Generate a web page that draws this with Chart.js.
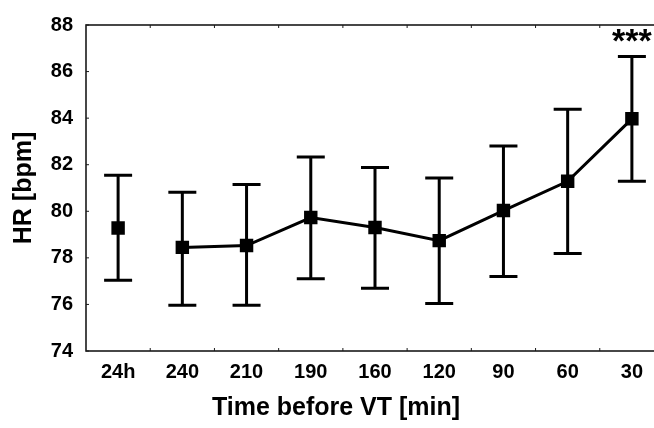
<!DOCTYPE html>
<html>
<head>
<meta charset="utf-8">
<script src="https://cdn.jsdelivr.net/npm/chart.js@4/dist/chart.umd.min.js"></script>
<style>
  html, body { margin: 0; padding: 0; background: #fff; overflow: hidden; }
  #wrap { width: 680px; height: 428px; }
</style>
</head>
<body>
<div id="wrap"><canvas id="c" width="680" height="428"></canvas></div>
<script>
// ---- data ----
const categories = ['24h', '240', '210', '190', '160', '120', '90', '60', '30'];
const meanHR  = [79.28, 78.45, 78.53, 79.73, 79.30, 78.74, 80.03, 81.29, 83.97];
const upperHR = [81.55, 80.82, 81.15, 82.33, 81.88, 81.43, 82.80, 84.38, 86.65];
const lowerHR = [77.04, 75.97, 75.97, 77.10, 76.69, 76.04, 77.20, 78.19, 81.29];
const yTicks = [74, 76, 78, 80, 82, 84, 86, 88];
const significance = { index: 8, text: '***' };
const xTitle = 'Time before VT [min]';

const FONT = '"Liberation Sans", Arial, Helvetica, sans-serif';

const errorBars = {
  id: 'errorBars',
  beforeDatasetsDraw(chart) {
    const { ctx, scales: { x, y } } = chart;
    ctx.save();
    ctx.strokeStyle = '#000';
    ctx.lineWidth = 3;
    ctx.lineCap = 'butt';
    const cap = 14;
    categories.forEach((c, i) => {
      const px = x.getPixelForValue(i);
      const yt = y.getPixelForValue(upperHR[i]);
      const yb = y.getPixelForValue(lowerHR[i]);
      ctx.beginPath();
      ctx.moveTo(px, yt); ctx.lineTo(px, yb);
      ctx.moveTo(px - cap, yt); ctx.lineTo(px + cap, yt);
      ctx.moveTo(px - cap, yb); ctx.lineTo(px + cap, yb);
      ctx.stroke();
    });
    ctx.restore();
  },
  afterDatasetsDraw(chart) {
    const { ctx, scales: { x, y } } = chart;
    ctx.save();
    ctx.fillStyle = '#000';
    ctx.font = 'bold 34px ' + FONT;
    ctx.textAlign = 'center';
    ctx.textBaseline = 'alphabetic';
    const i = significance.index;
    ctx.fillText(significance.text, x.getPixelForValue(i), y.getPixelForValue(upperHR[i]) - 4);
    ctx.restore();
  }
};

const frame = {
  id: 'frame',
  afterDraw(chart) {
    const { ctx, chartArea: a, scales: { x, y } } = chart;
    ctx.save();
    ctx.strokeStyle = '#1a1a1a';
    ctx.lineWidth = 1.6;
    ctx.strokeRect(a.left, a.top, a.right - a.left, a.bottom - a.top);
    ctx.lineWidth = 1;
    const tl = 3;
    ctx.beginPath();
    yTicks.forEach(v => {
      const py = y.getPixelForValue(v);
      ctx.moveTo(a.left, py); ctx.lineTo(a.left + tl, py);
      ctx.moveTo(a.right, py); ctx.lineTo(a.right - tl, py);
    });
    for (let i = 0; i < categories.length - 1; i++) {
      const px = (x.getPixelForValue(i) + x.getPixelForValue(i + 1)) / 2;
      ctx.moveTo(px, a.bottom); ctx.lineTo(px, a.bottom - tl);
      ctx.moveTo(px, a.top); ctx.lineTo(px, a.top + tl);
    }
    ctx.stroke();
    // x-axis title (centred as in the source figure)
    ctx.fillStyle = '#000';
    ctx.font = 'bold 25px ' + FONT;
    ctx.textAlign = 'center';
    ctx.textBaseline = 'middle';
    ctx.fillText(xTitle, 336, 408);
    ctx.restore();
  }
};

new Chart(document.getElementById('c'), {
  type: 'line',
  data: {
    labels: categories,
    datasets: [{
      data: meanHR,
      borderColor: '#000',
      backgroundColor: '#000',
      borderWidth: 3,
      pointStyle: 'rect',
      pointRadius: 9.5,
      pointHoverRadius: 9.5,
      pointBorderWidth: 0,
      tension: 0,
      segment: {
        borderColor: ctx => ctx.p0DataIndex === 0 ? 'rgba(0,0,0,0)' : '#000'
      }
    }]
  },
  options: {
    responsive: false,
    animation: false,
    events: [],
    layout: { padding: { top: 16, right: 16, left: 0, bottom: 0 } },
    plugins: { legend: { display: false }, tooltip: { enabled: false } },
    scales: {
      x: {
        type: 'category',
        offset: true,
        grid: { display: false, drawTicks: false },
        border: { display: false },
        ticks: {
          color: '#000',
          padding: 9,
          maxRotation: 0,
          autoSkip: false,
          font: { family: FONT, size: 20, weight: 'bold' }
        },
        title: { display: false },
        afterFit: s => { s.height = 77; }
      },
      y: {
        min: 74,
        max: 88,
        afterBuildTicks: s => { s.ticks = yTicks.map(v => ({ value: v })); },
        grid: { display: false, drawTicks: false },
        border: { display: false },
        ticks: {
          color: '#000',
          padding: 13,
          font: { family: FONT, size: 20, weight: 'bold' }
        },
        title: {
          display: true,
          text: 'HR [bpm]',
          color: '#000',
          padding: { top: 9, bottom: 0 },
          font: { family: FONT, size: 25, weight: 'bold' }
        },
        afterFit: s => { s.width = 86; }
      }
    }
  },
  plugins: [errorBars, frame]
});
</script>
</body>
</html>
